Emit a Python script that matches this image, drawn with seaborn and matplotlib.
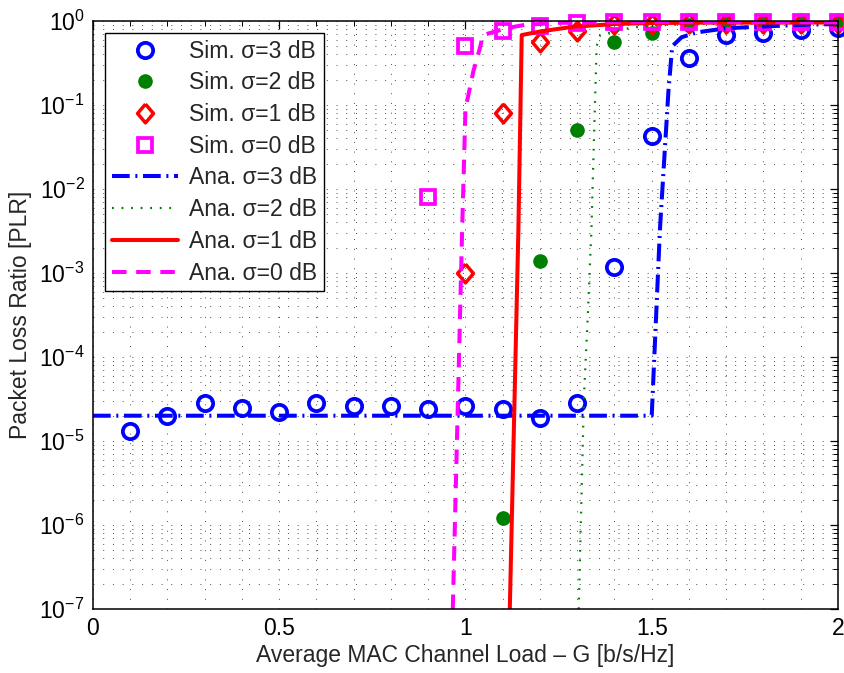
import numpy as np
import pandas as pd
import matplotlib
matplotlib.use("Agg")
import matplotlib.pyplot as plt
from matplotlib.ticker import MultipleLocator, FormatStrFormatter, LogLocator
import seaborn as sns

# --- simulated packet loss ratio (markers) ---
G_sim = [0.1, 0.2, 0.3, 0.4, 0.5, 0.6, 0.7, 0.8, 0.9, 1.0,
         1.1, 1.2, 1.3, 1.4, 1.5, 1.6, 1.7, 1.8, 1.9, 2.0]
nan = float("nan")
sim_s3 = [1.3e-5, 2.0e-5, 2.8e-5, 2.5e-5, 2.2e-5, 2.8e-5, 2.6e-5, 2.6e-5, 2.4e-5, 2.6e-5,
          2.4e-5, 1.9e-5, 2.8e-5, 1.18e-3, 4.3e-2, 0.36, 0.68, 0.72, 0.78, 0.83]
sim_s2 = [nan, nan, nan, nan, nan, nan, nan, nan, nan, nan,
          1.2e-6, 1.4e-3, 5.0e-2, 0.56, 0.72, 0.9, 0.92, 0.93, 0.93, 0.94]
sim_s1 = [nan, nan, nan, nan, nan, nan, nan, nan, nan, 1.0e-3,
          8.0e-2, 0.56, 0.75, 0.92, 0.93, 0.94, 0.94, 0.95, 0.95, 0.95]
sim_s0 = [nan, nan, nan, nan, nan, nan, nan, nan, 8.0e-3, 0.50,
          0.77, 0.86, 0.95, 0.97, 0.97, 0.97, 0.97, 0.97, 0.97, 0.97]

# --- analytical curves ---
G_ana3 = [0.0, 1.5, 1.522, 1.545, 1.555, 1.58, 1.62, 1.7, 1.8, 1.9, 2.0]
ana_s3 = [2e-5, 2e-5, 3.3e-3, 0.15, 0.5, 0.64, 0.73, 0.82, 0.86, 0.9, 0.92]
G_ana2 = [1.304, 1.318, 1.329, 1.338, 1.352, 1.362, 1.415, 1.45, 1.5, 1.6, 1.8, 2.0]
ana_s2 = [1e-7, 3.3e-5, 3.6e-4, 3.2e-3, 0.5, 0.68, 0.78, 0.84, 0.88, 0.92, 0.94, 0.95]
G_ana1 = [1.119, 1.142, 1.151, 1.2, 1.29, 1.4, 1.47, 1.6, 2.0]
ana_s1 = [1e-7, 3.2e-3, 0.68, 0.75, 0.855, 0.92, 0.94, 0.955, 0.96]
G_ana0 = [0.966, 0.991, 1.0, 1.021, 1.039, 1.047, 1.08, 1.115, 1.16, 1.25, 1.4, 2.0]
ana_s0 = [1e-7, 3.2e-3, 0.09, 0.25, 0.48, 0.68, 0.75, 0.83, 0.9, 0.95, 0.97, 0.97]

x_ticks = [0, 0.5, 1, 1.5, 2]

sns.set_theme(style="white")
plt.rcParams["font.family"] = ["Liberation Sans", "DejaVu Sans"]
plt.rcParams["mathtext.fontset"] = "custom"
plt.rcParams["mathtext.rm"] = "Liberation Sans"
plt.rcParams["mathtext.it"] = "Liberation Sans:italic"
plt.rcParams["mathtext.bf"] = "Liberation Sans:bold"

BLUE, GREEN, RED, MAGENTA = (0, 0, 1), (0, 0.5, 0), (1, 0, 0), (1, 0, 1)
FS = 16.5

fig = plt.figure(figsize=(8.45, 6.73), dpi=100)
ax = fig.add_axes([0.110, 0.0951, 0.8817, 0.8737])

diamond = [(0, 1), (0.85, 0), (0, -1), (-0.85, 0), (0, 1)]

handles = []

def markers(x, y, label, **kw):
    df = pd.DataFrame({"G": x, "PLR": y}).dropna()
    sns.lineplot(data=df, x="G", y="PLR", ax=ax, estimator=None, errorbar=None,
                 linestyle="", label=label, clip_on=False, zorder=3, **kw)
    handles.append(ax.lines[-1])

def curve(x, y, label, **kw):
    df = pd.DataFrame({"G": x, "PLR": y})
    sns.lineplot(data=df, x="G", y="PLR", ax=ax, estimator=None, errorbar=None,
                 label=label, zorder=4, **kw)
    handles.append(ax.lines[-1])

markers(G_sim, sim_s3, "Sim. σ=3 dB", marker="o", markersize=11,
        markerfacecolor="none", markeredgecolor=BLUE, markeredgewidth=2.7, color=BLUE)
markers(G_sim, sim_s2, "Sim. σ=2 dB", marker="o", markersize=9.5,
        markerfacecolor=GREEN, markeredgecolor=GREEN, markeredgewidth=1, color=GREEN)
markers(G_sim, sim_s1, "Sim. σ=1 dB", marker=diamond, markersize=13.5,
        markerfacecolor="none", markeredgecolor=RED, markeredgewidth=2.5, color=RED)
markers(G_sim, sim_s0, "Sim. σ=0 dB", marker="s", markersize=9.5,
        markerfacecolor="none", markeredgecolor=MAGENTA, markeredgewidth=2.7, color=MAGENTA)

curve(G_ana3, ana_s3, "Ana. σ=3 dB", color=BLUE, linewidth=2.9, dashes=(4.4, 1.4, 0.5, 1.4))
curve(G_ana2, ana_s2, "Ana. σ=2 dB", color=GREEN, linewidth=1.6, dashes=(0.8, 3.5))
curve(G_ana1, ana_s1, "Ana. σ=1 dB", color=RED, linewidth=2.9)
curve(G_ana0, ana_s0, "Ana. σ=0 dB", color=MAGENTA, linewidth=2.9, dashes=(3.6, 2.4))

ax.set_yscale("log")
ax.set_xlim(0, 2)
ax.set_ylim(1e-7, 1)
ax.set_xticks(x_ticks)
ax.xaxis.set_major_formatter(FormatStrFormatter("%g"))
ax.xaxis.set_minor_locator(MultipleLocator(0.1))
ax.yaxis.set_major_locator(LogLocator(base=10, numticks=12))
ax.yaxis.set_minor_locator(LogLocator(base=10, subs=np.arange(2, 10), numticks=12))

ax.grid(True, which="both", color="black", linestyle=(0, (1, 9)), linewidth=0.7, alpha=0.7)
ax.tick_params(which="both", direction="in", top=True, right=True, labelsize=FS,
               colors="black", pad=6)
ax.tick_params(which="major", length=6, width=0.9)
ax.tick_params(which="minor", length=3.5, width=0.7)
for sp in ax.spines.values():
    sp.set_visible(True)
    sp.set_color("black")
    sp.set_linewidth(1.1)
    sp.set_zorder(5)

ax.set_xlabel("Average MAC Channel Load – G [b/s/Hz]", fontsize=FS, labelpad=3)
ax.set_ylabel("Packet Loss Ratio [PLR]", fontsize=FS, labelpad=5)

leg = ax.legend(handles=handles, labels=[h.get_label() for h in handles],
                loc="upper left", bbox_to_anchor=(0.016, 0.98), borderaxespad=0,
                fontsize=FS, frameon=True, fancybox=False, framealpha=1,
                edgecolor="black", handlelength=2.9, handletextpad=0.45,
                labelspacing=0.38, borderpad=0.3, numpoints=1)
leg.get_frame().set_linewidth(1.0)
leg.set_zorder(10)

fig.savefig("out.png", dpi=100)
